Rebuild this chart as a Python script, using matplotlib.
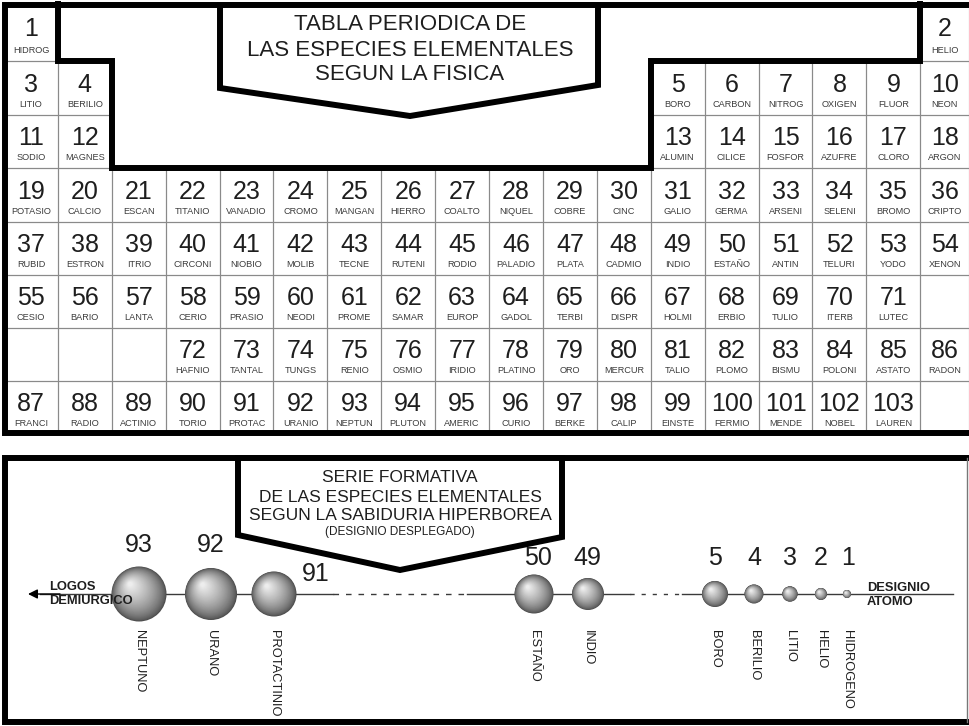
import numpy as np
import matplotlib.pyplot as plt
from matplotlib.patches import Polygon, Circle, Rectangle

plt.rcParams['font.family'] = ['Liberation Sans', 'DejaVu Sans']

# --- data -------------------------------------------------------------------
title_top = ['TABLA PERIODICA DE', 'LAS ESPECIES ELEMENTALES', 'SEGUN LA FISICA']
title_bot = ['SERIE FORMATIVA', 'DE LAS ESPECIES ELEMENTALES',
             'SEGUN LA SABIDURIA HIPERBOREA']
title_bot_sub = '(DESIGNIO DESPLEGADO)'

# element numbers per table row (None = no cell)
row_nums = [
    [1] + [None] * 16 + [2],
    [3, 4] + [None] * 10 + [5, 6, 7, 8, 9, 10],
    [11, 12] + [None] * 10 + [13, 14, 15, 16, 17, 18],
    [19, 20, 21, 22, 23, 24, 25, 26, 27, 28, 29, 30, 31, 32, 33, 34, 35, 36],
    [37, 38, 39, 40, 41, 42, 43, 44, 45, 46, 47, 48, 49, 50, 51, 52, 53, 54],
    [55, 56, 57, 58, 59, 60, 61, 62, 63, 64, 65, 66, 67, 68, 69, 70, 71, None],
    [None, None, None, 72, 73, 74, 75, 76, 77, 78, 79, 80, 81, 82, 83, 84, 85, 86],
    [87, 88, 89, 90, 91, 92, 93, 94, 95, 96, 97, 98, 99, 100, 101, 102, 103, None],
]
names = {
    1: 'HIDROG', 2: 'HELIO', 3: 'LITIO', 4: 'BERILIO', 5: 'BORO', 6: 'CARBON',
    7: 'NITROG', 8: 'OXIGEN', 9: 'FLUOR', 10: 'NEON', 11: 'SODIO', 12: 'MAGNES',
    13: 'ALUMIN', 14: 'CILICE', 15: 'FOSFOR', 16: 'AZUFRE', 17: 'CLORO', 18: 'ARGON',
    19: 'POTASIO', 20: 'CALCIO', 21: 'ESCAN', 22: 'TITANIO', 23: 'VANADIO', 24: 'CROMO',
    25: 'MANGAN', 26: 'HIERRO', 27: 'COALTO', 28: 'NIQUEL', 29: 'COBRE', 30: 'CINC',
    31: 'GALIO', 32: 'GERMA', 33: 'ARSENI', 34: 'SELENI', 35: 'BROMO', 36: 'CRIPTO',
    37: 'RUBID', 38: 'ESTRON', 39: 'ITRIO', 40: 'CIRCONI', 41: 'NIOBIO', 42: 'MOLIB',
    43: 'TECNE', 44: 'RUTENI', 45: 'RODIO', 46: 'PALADIO', 47: 'PLATA', 48: 'CADMIO',
    49: 'INDIO', 50: 'ESTAÑO', 51: 'ANTIN', 52: 'TELURI', 53: 'YODO', 54: 'XENON',
    55: 'CESIO', 56: 'BARIO', 57: 'LANTA', 58: 'CERIO', 59: 'PRASIO', 60: 'NEODI',
    61: 'PROME', 62: 'SAMAR', 63: 'EUROP', 64: 'GADOL', 65: 'TERBI', 66: 'DISPR',
    67: 'HOLMI', 68: 'ERBIO', 69: 'TULIO', 70: 'ITERB', 71: 'LUTEC',
    72: 'HAFNIO', 73: 'TANTAL', 74: 'TUNGS', 75: 'RENIO', 76: 'OSMIO', 77: 'IRIDIO',
    78: 'PLATINO', 79: 'ORO', 80: 'MERCUR', 81: 'TALIO', 82: 'PLOMO', 83: 'BISMU',
    84: 'POLONI', 85: 'ASTATO', 86: 'RADON',
    87: 'FRANCI', 88: 'RADIO', 89: 'ACTINIO', 90: 'TORIO', 91: 'PROTAC', 92: 'URANIO',
    93: 'NEPTUN', 94: 'PLUTON', 95: 'AMERIC', 96: 'CURIO', 97: 'BERKE', 98: 'CALIP',
    99: 'EINSTE', 100: 'FERMIO', 101: 'MENDE', 102: 'NOBEL', 103: 'LAUREN',
}

# formative series (spheres)
series_nums = [93, 92, 91, 50, 49, 5, 4, 3, 2, 1]
series_names = ['NEPTUNO', 'URANO', 'PROTACTINIO', 'ESTAÑO', 'INDIO',
                'BORO', 'BERILIO', 'LITIO', 'HELIO', 'HIDROGENO']

# --- layout (pixels) --------------------------------------------------------
col_edges = [4 + 53.9 * i for i in range(18)] + [969]
row_edges = [4, 61, 115, 168, 222, 275, 328, 381, 434]
sph_x = [139, 211, 274, 534, 588, 715, 754, 790, 821, 847]
sph_r = [27.5, 26, 22.5, 19.5, 16, 13, 9.5, 7.7, 6, 4]
num_x = [139, 211, 316, 538, 587, 715, 754, 790, 821, 848]
num_y = [545, 545, 574, 558, 558, 558, 558, 558, 558, 558]
line_y = 594

fig = plt.figure(figsize=(9.69, 7.26), dpi=100)
ax = fig.add_axes([0, 0, 1, 1])
ax.set_xlim(0, 969)
ax.set_ylim(726, 0)
ax.axis('off')

THICK = 4.3
grid_c = '#8a8a8a'
txt_c = '#1e1e1e'

# --- periodic table ---------------------------------------------------------
for r, row in enumerate(row_nums):
    y0, y1 = row_edges[r], row_edges[r + 1]
    h = y1 - y0
    for c, n in enumerate(row):
        x0, x1 = col_edges[c], col_edges[c + 1]
        if n is None and r < 3:
            continue
        ax.add_patch(Rectangle((x0, y0), x1 - x0, h, fill=False,
                               edgecolor=grid_c, lw=0.8, zorder=1))
        if n is None:
            continue
        xc = (x0 + x1) / 2
        ax.text(xc, y0 + 0.44 * h, str(n), ha='center', va='center',
                fontsize=18, color=txt_c, zorder=3)
        ax.text(xc, y0 + 0.81 * h, names[n], ha='center', va='center',
                fontsize=6.6, color='#3c3c3c', zorder=3)

# thick outline of the empty region
ex = [col_edges[1], col_edges[1], col_edges[2], col_edges[2],
      col_edges[12], col_edges[12], col_edges[17], col_edges[17]]
ey = [row_edges[0], row_edges[1], row_edges[1], row_edges[3],
      row_edges[3], row_edges[1], row_edges[1], row_edges[0]]
ax.plot(ex, ey, color='k', lw=THICK, solid_joinstyle='miter', zorder=4)
# outer frame (left, top, bottom)
ax.plot([969, 5, 5, 969], [5, 5, 433, 433], color='k', lw=THICK,
        solid_joinstyle='miter', zorder=4)

# title banner
ax.add_patch(Polygon([(220, 5), (220, 88), (410, 116), (598, 85), (598, 5)],
                     closed=True, facecolor='white', edgecolor='k', lw=THICK,
                     joinstyle='miter', zorder=5))
for i, t in enumerate(title_top):
    ax.text(410, 25 + 25 * i, t, ha='center', va='center', fontsize=16,
            color=txt_c, zorder=6)

# --- formative series -------------------------------------------------------
ax.plot([969, 5, 5, 969], [458, 458, 722, 722], color='k', lw=THICK,
        solid_joinstyle='miter', zorder=4)
ax.plot([967, 967], [458, 722], color='#777777', lw=1.0, zorder=4)

ax.add_patch(Polygon([(238, 458), (238, 535), (400, 570), (562, 537), (562, 458)],
                     closed=True, facecolor='white', edgecolor='k', lw=THICK,
                     joinstyle='miter', zorder=5))
for i, t in enumerate(title_bot):
    ax.text(400, 478 + 19 * i, t, ha='center', va='center', fontsize=12.5,
            color=txt_c, zorder=6)
ax.text(400, 532, title_bot_sub, ha='center', va='center', fontsize=8.5,
        color=txt_c, zorder=6)

lc = '#3a3a3a'
ax.plot([40, 333], [line_y, line_y], color=lc, lw=1.0, zorder=2)
ax.plot([333, 467], [line_y, line_y], color=lc, lw=1.0, ls=(0, (4, 5)), zorder=2)
ax.plot([467, 630], [line_y, line_y], color=lc, lw=1.0, zorder=2)
ax.plot([630, 682], [line_y, line_y], color=lc, lw=1.0, ls=(0, (3, 5)), zorder=2)
ax.plot([682, 953], [line_y, line_y], color=lc, lw=1.0, zorder=2)
ax.annotate('', xy=(28, line_y), xytext=(60, line_y),
            arrowprops=dict(arrowstyle='-|>', color='k', lw=1.0,
                            mutation_scale=14, shrinkA=0, shrinkB=0), zorder=3)

dark = np.array([0.30, 0.30, 0.30])
light = np.array([0.93, 0.93, 0.93])
nlay = 40
for x, r in zip(sph_x, sph_r):
    for k in range(nlay):
        t = k / (nlay - 1)
        rr = r * (1 - 0.92 * t)
        cx = x - 0.32 * r * t
        cy = line_y - 0.36 * r * t
        col = dark + (light - dark) * t ** 0.7
        ax.add_patch(Circle((cx, cy), rr, facecolor=col, edgecolor='none',
                            zorder=3))

for n, x, y in zip(series_nums, num_x, num_y):
    ax.text(x, y, str(n), ha='center', va='center', fontsize=18,
            color=txt_c, zorder=6)

for name, x in zip(series_names, sph_x):
    ax.text(x, 630, name, ha='center', va='top', rotation=-90,
            fontsize=9.3, color=txt_c, zorder=6)

ax.text(49, 594, 'LOGOS\nDEMIURGICO', ha='left', va='center', fontsize=9.3,
        fontweight='bold', color=txt_c, linespacing=1.25, zorder=7)
ax.text(867, 595, 'DESIGNIO\nATOMO', ha='left', va='center', fontsize=9.3,
        fontweight='bold', color=txt_c, linespacing=1.25, zorder=7)

fig.savefig('out.png', dpi=100)
